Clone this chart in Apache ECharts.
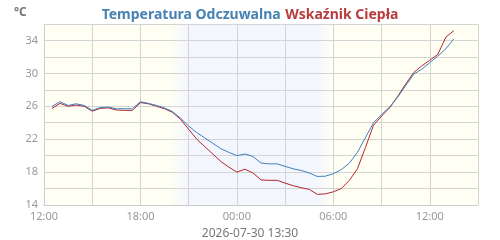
<!DOCTYPE html>
<html>
<head>
<meta charset="utf-8">
<script src="https://cdn.jsdelivr.net/npm/echarts@6/dist/echarts.min.js"></script>
<style>html,body{margin:0;padding:0;background:#fff}#c{width:500px;height:240px}</style>
</head>
<body>
<div id="c"></div>
<script>
// Time stamps (2026-07-29 12:30 .. 2026-07-30 13:30), half-hourly
const times = [
 '12:30','13:00','13:30','14:00','14:30','15:00','15:30','16:00','16:30','17:00','17:30','18:00',
 '18:30','19:00','19:30','20:00','20:30','21:00','21:30','22:00','22:30','23:00','23:30','00:00',
 '00:30','01:00','01:30','02:00','02:30','03:00','03:30','04:00','04:30','05:00','05:30','06:00',
 '06:30','07:00','07:30','08:00','08:30','09:00','09:30','10:00','10:30','11:00','11:30','12:00',
 '12:30','13:00','13:30'
];
// Temperatura Odczuwalna (feels-like)
const feelsLike = [
 26.0,26.55,26.1,26.3,26.1,25.5,25.85,25.9,25.7,25.7,25.7,26.55,
 26.35,26.1,25.8,25.35,24.55,23.6,22.8,22.15,21.5,20.85,20.4,20.0,
 20.2,19.9,19.1,19.0,19.0,18.7,18.4,18.2,17.9,17.47,17.5,17.8,
 18.3,19.1,20.4,22.2,24.0,25.0,25.9,27.1,28.5,29.9,30.5,31.3,
 32.1,33.0,34.2
];
// Wskaźnik Ciepła (heat index)
const heatIndex = [
 25.75,26.35,26.0,26.15,26.0,25.4,25.75,25.8,25.55,25.5,25.5,26.45,
 26.3,26.0,25.7,25.25,24.4,23.2,22.0,21.1,20.2,19.3,18.6,18.0,
 18.35,17.9,17.05,17.0,17.0,16.66,16.35,16.1,15.9,15.3,15.35,15.6,
 16.0,17.0,18.4,21.0,23.7,24.8,25.8,27.2,28.7,30.1,30.9,31.6,
 32.3,34.4,35.2
];
const yTicks = [14,18,22,26,30,34];
const xLabelHours = [12,18,24,30,36];
const titleParts = ['Temperatura Odczuwalna','Wskaźnik Ciepła'];
const unitText = '°C';
const footerText = '2026-07-30 13:30';
// day / night bands (hours from 2026-07-29 00:00)
const axisRange = [12, 39];
const nightFadeIn = [19.75, 21.0];
const nightFull = [21.0, 29.0];
const nightFadeOut = [29.0, 29.9];

// convert time strings to hours since 2026-07-29 00:00
const hours = [];
let dayOffset = 0, prev = -1;
times.forEach(t => {
  const [h, m] = t.split(':').map(Number);
  let v = h + m/60;
  if (v < prev) dayOffset += 24;
  prev = v;
  hours.push(v + dayOffset);
});
const s1 = hours.map((h,i)=>[h, feelsLike[i]]);
const s2 = hours.map((h,i)=>[h, heatIndex[i]]);

const DAY = '#fffff3', NIGHT = '#f4f6fe';
const chart = echarts.init(document.getElementById('c'), null, {renderer:'canvas'});
const font = 'Noto Sans';
const pad = n => (n<10?'0':'')+n;
chart.setOption({
  animation:false,
  textStyle:{fontFamily:font},
  title:[{
    text:'{a|'+titleParts[0]+'} {b|'+titleParts[1]+'}',
    left:'center', top:1,
    textStyle:{rich:{
      a:{color:'#4682b4',fontSize:14,fontWeight:'bold',fontFamily:font},
      b:{color:'#b83c3c',fontSize:14,fontWeight:'bold',fontFamily:font}
    }}
  },{
    text:unitText, left:9, top:2,
    textStyle:{color:'#777',fontSize:12,fontWeight:'bold',fontFamily:font}
  },{
    text:footerText, left:'center', top:223,
    textStyle:{color:'#777',fontSize:12,fontWeight:'normal',fontFamily:font}
  }],
  grid:{left:44,right:22,top:24,bottom:35,show:false},
  xAxis:{
    type:'value', min:axisRange[0], max:axisRange[1], interval:3, z:5,
    axisLine:{show:true,lineStyle:{color:'#cccccc'}},
    axisTick:{show:false},
    splitLine:{show:true,lineStyle:{color:'#d4d4d4',width:1}},
    axisLabel:{color:'#999',fontSize:11,margin:6,
      formatter:v=> xLabelHours.indexOf(v)>=0 ? pad(v%24)+':00' : ''}
  },
  yAxis:{
    type:'value', min:14, max:36, interval:2, z:5,
    axisLine:{show:true,lineStyle:{color:'#cccccc'}},
    axisTick:{show:false},
    splitLine:{show:true,lineStyle:{color:'#d4d4d4',width:1}},
    axisLabel:{color:'#999',fontSize:11,margin:6,
      formatter:v=> yTicks.indexOf(v)>=0 ? String(v) : ''}
  },
  series:[{
    type:'line', data:[], z:0, silent:true,
    markArea:{silent:true, data:[
      [{xAxis:axisRange[0], itemStyle:{color:DAY}},{xAxis:axisRange[1]}],
      [{xAxis:nightFadeIn[0], itemStyle:{color:new echarts.graphic.LinearGradient(0,0,1,0,[{offset:0,color:DAY},{offset:1,color:NIGHT}])}},{xAxis:nightFadeIn[1]}],
      [{xAxis:nightFull[0], itemStyle:{color:NIGHT}},{xAxis:nightFull[1]}],
      [{xAxis:nightFadeOut[0], itemStyle:{color:new echarts.graphic.LinearGradient(0,0,1,0,[{offset:0,color:NIGHT},{offset:1,color:DAY}])}},{xAxis:nightFadeOut[1]}]
    ]}
  },{
    type:'line', data:s1, showSymbol:false, z:10,
    lineStyle:{color:'#3f7fbf',width:1}
  },{
    type:'line', data:s2, showSymbol:false, z:9,
    lineStyle:{color:'#b5262e',width:1}
  }]
});
</script>
</body>
</html>
